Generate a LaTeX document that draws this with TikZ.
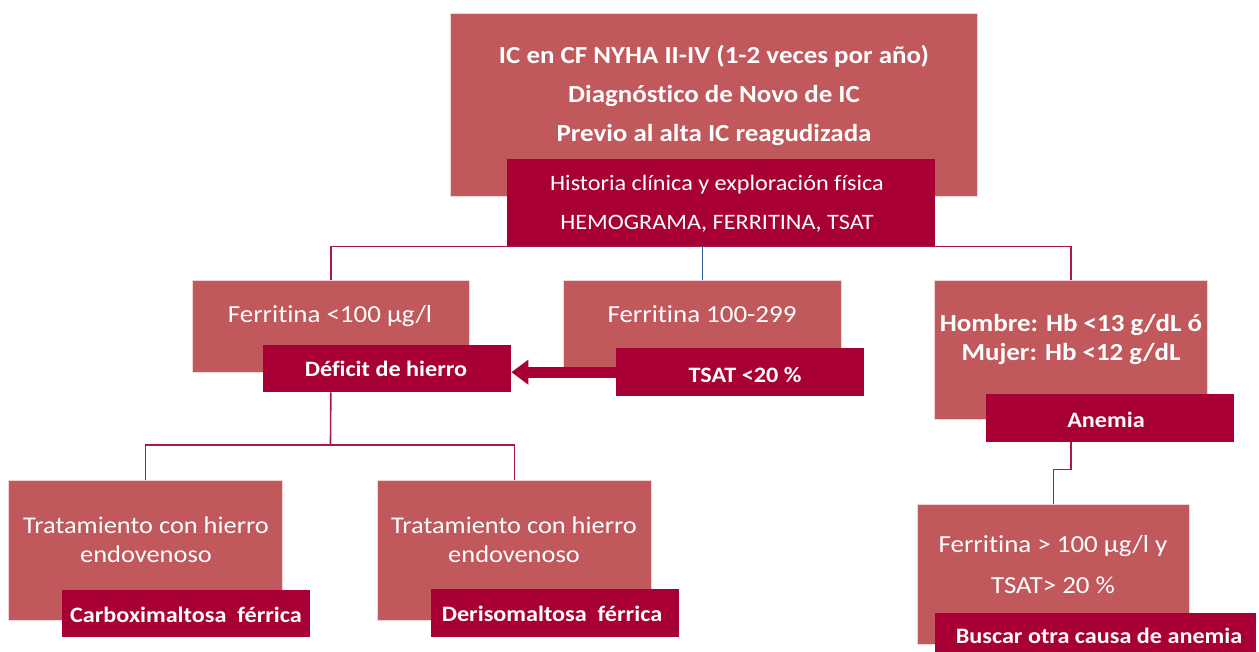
\documentclass[tikz,border=0pt]{standalone}
\usepackage{fontspec}
\setmainfont{Carlito}[FakeStretch=1.1, Ligatures=NoCommon]
\usepackage{tikz}
\usetikzlibrary{arrows.meta}
\usetikzlibrary{backgrounds}

\definecolor{boxlight}{RGB}{192,88,92}
\definecolor{boxdark}{RGB}{168,0,52}
\definecolor{linkred}{RGB}{168,24,72}
\definecolor{linkblue}{RGB}{47,85,151}

\begin{document}
\begin{tikzpicture}[x=1pt, y=-1pt,
    lbox/.style={fill=boxlight, draw=white!75!boxlight, line width=0.6pt, anchor=north west, inner sep=0pt},
    dbox/.style={fill=boxdark, anchor=north west, inner sep=0pt},
    txt/.style={text=white, anchor=base, align=center, inner sep=0pt},
    link/.style={draw=linkred, line width=1.6pt},
    bluelink/.style={draw=linkblue, line width=1.4pt},
    fatarrow/.style={draw=boxdark, line width=11pt, -{Triangle[length=17pt,width=24pt]}}]
    \useasboundingbox (0,0) rectangle (1259,652);

    \node [lbox, minimum width=527pt, minimum height=183pt] (top) at (450,13) {};
    \node [dbox, minimum width=428pt, minimum height=87pt] (hist) at (507,159) {};

    \node [lbox, minimum width=277pt, minimum height=92pt] (f1) at (192,280) {};
    \node [lbox, minimum width=278pt, minimum height=90pt] (f2) at (563,280) {};
    \node [lbox, minimum width=273pt, minimum height=139pt] (hb) at (934,280) {};
    \node [dbox, minimum width=248pt, minimum height=47pt] (def) at (263,345) {};
    \node [dbox, minimum width=248pt, minimum height=48pt] (tsat) at (616,348) {};
    \node [dbox, minimum width=248pt, minimum height=48pt] (an) at (986,394) {};

    \node [lbox, minimum width=274pt, minimum height=140pt] (t1) at (8,480) {};
    \node [lbox, minimum width=274pt, minimum height=140pt] (t2) at (377,480) {};
    \node [lbox, minimum width=272pt, minimum height=140pt] (fb) at (917,504) {};
    \node [dbox, minimum width=248pt, minimum height=47pt] (carb) at (62,590) {};
    \node [dbox, minimum width=248pt, minimum height=48pt] (deri) at (431,589) {};
    \node [dbox, minimum width=321pt, minimum height=45pt] (busc) at (935,613) {};

    \coordinate (split) at (330.5,445);

    \begin{scope}[on background layer]
      \draw [link] (f1.north) |- (hist.south) -| (hb.north);
      \draw [bluelink] (f2.north) -- (f2.north |- hist.south);
      \draw [link] (def.south -| f1.south) -- (split);
      \draw [link] (t1.north) |- (split) -| (t2.north);
      \draw [link] (an.south -| hb.south) -- ++(0,27) -| (fb.north);
    \end{scope}
    \draw [fatarrow] (tsat.west) -- (tsat.west -| def.east);

    \node [txt, font=\bfseries\fontsize{24.5}{39}\selectfont] (toptxt) at (714,142)
      {IC en CF NYHA II-IV (1-2 veces por año)\\Diagnóstico de Novo de IC\\Previo al alta IC reagudizada};
    \node [txt, font=\fontsize{22}{39}\selectfont] (histtxt) at (717,230)
      {Historia clínica y exploración física\\HEMOGRAMA, FERRITINA, TSAT};

    \node [txt, font=\fontsize{24.5}{29}\selectfont] (f1txt) at (330,323) {Ferritina <100 µg/l};
    \node [txt, font=\fontsize{24.5}{29}\selectfont] (f2txt) at (702,323) {Ferritina 100-299};
    \node [txt, font=\bfseries\fontsize{24.5}{29}\selectfont] (hbtxt) at (1071,361)
      {Hombre: Hb <13 g/dL ó\\Mujer: Hb <12 g/dL};
    \node [txt, font=\bfseries\fontsize{22}{29}\selectfont] (deftxt) at (386,377) {Déficit de hierro};
    \node [txt, font=\bfseries\fontsize{22}{29}\selectfont] (tsattxt) at (745,382) {TSAT <20 \%};
    \node [txt, font=\bfseries\fontsize{22}{29}\selectfont] (antxt) at (1106,427) {Anemia};

    \node [txt, font=\fontsize{24}{29}\selectfont] (t1txt) at (146,562) {Tratamiento con hierro\\endovenoso};
    \node [txt, font=\fontsize{24}{29}\selectfont] (t2txt) at (514,562) {Tratamiento con hierro\\endovenoso};
    \node [txt, font=\fontsize{24.5}{41}\selectfont] (fbtxt) at (1053,593) {Ferritina > 100 µg/l y\\TSAT> 20 \%};
    \node [txt, font=\bfseries\fontsize{22}{29}\selectfont] (carbtxt) at (186,622) {Carboximaltosa\ \ férrica};
    \node [txt, font=\bfseries\fontsize{22}{29}\selectfont] (deritxt) at (552,621) {Derisomaltosa\ \ férrica};
    \node [txt, font=\bfseries\fontsize{22}{29}\selectfont] (busctxt) at (1099,643) {Buscar otra causa de anemia};
  \end{tikzpicture}
\end{document}
